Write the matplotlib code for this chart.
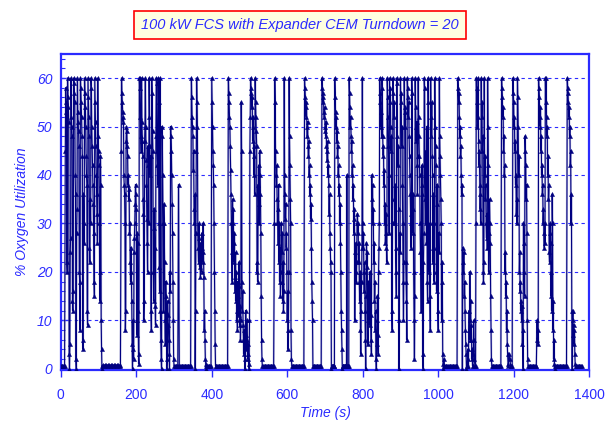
import numpy as np
import matplotlib
matplotlib.use("Agg")
import matplotlib.pyplot as plt
from matplotlib.ticker import MultipleLocator

# ---- data: % oxygen utilization; bursts sampled every 1 s, idle periods every 2 s ----
STEP_BURST = 1.0
STEP_FLAT = 2.0

flat_a = [0.5, 0.6, 0.5, 0.6, 0.5, 0.6]
burst_1 = [45, 58, 55, 53, 22, 20, 60, 56, 54, 51, 3, 0, 5, 24, 27, 60, 52, 50, 48, 14,
           12, 16, 60, 59, 57, 55, 40, 36, 2, 0, 28, 33, 60, 53, 51, 49, 46, 20, 18, 8,
           60, 58, 55, 52, 48, 44, 6, 4, 36, 30, 26, 60, 57, 54, 50, 44, 40, 38, 12, 9,
           60, 56, 52, 48, 25, 22, 35, 30, 60, 58, 50, 46, 42, 38, 34, 28, 18, 15, 60, 55,
           51, 46, 40, 36, 32, 26, 60, 48, 45, 42, 30, 20, 14, 44, 38, 10, 4, 0]
flat_b = [0.6, 0.7, 0.6, 0.7, 0.6, 0.7, 0.6, 0.7, 0.6, 0.7, 0.6, 0.7, 0.6, 0.7, 0.6, 0.7,
          0.6, 0.7, 0.6, 0.7, 0.6, 0.7, 0.6, 0.7, 0.6]
burst_2 = [45, 60, 57, 55, 53, 51, 52, 40, 38, 36, 30, 8, 12, 47, 50, 49, 46, 44, 38, 40,
           35, 37, 28, 30, 22, 18, 25, 20, 14, 5, 0, 10, 4, 2, 24, 27, 30, 34, 38, 36,
           33, 10, 7, 28, 26, 12, 3, 1,
           60, 58, 60, 52, 48, 45, 60, 51, 47, 44, 35, 32, 10, 14, 47, 50, 60, 50, 43, 38,
           31, 26, 20, 46, 42, 30, 60, 52, 46, 40, 44, 12, 8, 60, 57, 49, 45, 20, 14, 33,
           29, 25, 13, 9, 48, 60, 59, 45, 42, 38, 60, 55, 30, 21, 16, 60, 12, 6, 2, 0,
           50, 48, 40, 30, 12, 34, 30, 22, 10, 5, 18, 15, 12, 0, 2, 14, 11, 9, 6, 3,
           0, 20, 16, 50, 48, 45, 40, 34, 28, 18, 10, 2]
flat_c = [0.6, 0.5, 0.6, 0.5, 0.6, 0.5, 38, 0.6, 0.5, 0.6, 0.5, 0.6, 0.5, 0.6, 0.5, 0.6,
          0.5, 0.6, 0.5, 0.6, 0.5, 0.6, 0.5]
burst_3 = [60, 56, 52, 50, 48, 41, 45, 33, 30, 36, 0, 12, 28, 45, 60, 55, 50, 28, 25, 22,
           30, 27, 21, 24, 19, 26, 23, 20, 28, 25, 22, 30, 24, 19, 8, 12, 6, 2, 1, 0]
flat_d = [0.6, 0.5, 0.6, 0.5, 0.6, 0.5, 0.6]
burst_4 = [60, 55, 50, 45, 42, 38, 30, 20, 12, 5]
flat_e = [0.6, 0.5, 0.6, 0.5, 0.6, 0.5, 0.6, 0.5, 0.6, 0.5, 0.6, 0.5, 0.6, 0.5, 0.6, 0.5,
          0.6]
burst_5 = [60, 57, 55, 52, 50, 46, 41, 36, 30, 24, 18,
           35, 30, 33, 26, 22, 28, 19, 16, 24, 14, 20, 10, 12, 8, 18, 15, 11, 22, 17, 9,
           13, 6, 10, 55, 45, 18, 12, 16, 9, 6, 3, 8, 5, 0, 2, 12, 7, 4, 10, 6,
           2, 5, 3, 1, 0,
           10, 45, 52, 60, 58, 57, 54, 56, 50, 47, 52, 44, 40, 46, 36, 60, 55, 52, 49, 46,
           20, 22, 18, 38, 34, 42, 30, 45, 40, 36, 28, 15, 6, 2]
flat_f = [0.6, 0.5, 0.6, 0.5, 0.6, 0.5, 0.6, 0.5, 0.6, 0.5, 0.6, 0.5, 0.6, 0.5, 0.6, 0.5]
burst_6 = [30, 60, 55, 45, 40, 38, 42, 35, 30, 33, 26, 38, 22, 30, 18, 25, 15, 20, 30, 24,
           28, 18, 14, 22, 12, 16, 60, 40, 36, 31, 34, 25, 28, 20, 10, 16, 4, 8, 20, 60,
           48, 42, 35, 30, 8, 2]
flat_g = [0.6, 0.5, 0.6, 0.5, 0.6, 0.5, 0.6, 0.5, 0.6, 0.5, 0.6, 0.5, 0.6, 0.5, 0.6, 0.5,
          0.6]
burst_7 = [60, 58, 56, 54, 52, 55, 50, 48, 51, 46, 44, 47, 40, 42, 36, 38, 31, 34, 25, 18,
           14, 10]
flat_h = [0.6, 0.5, 0.6, 0.5, 0.6, 0.5, 0.6, 0.5, 0.6, 0.5, 0.6, 0.5]
burst_8 = [60, 58, 57, 55, 56, 53, 52, 54, 50, 49, 48, 51, 46, 45, 43, 47, 40, 42, 38, 32,
           36, 28, 25, 22, 20, 0,
           0.5, 0.6, 0.5, 0.6, 0.5, 0.6, 0.5, 0.6,
           60, 56, 53, 50, 52, 47, 49, 44, 46, 40, 42, 36, 38, 30, 34, 26, 20, 12, 8, 4,
           0, 0.5,
           0.5, 0.6, 0.5, 0.6, 0.5, 0.6, 0.5, 0.6, 0.5, 0.6, 40, 0.6, 0.5, 0.6, 0.5, 0.6]
burst_9 = [60, 57, 54, 50, 52, 48, 45, 47, 40, 42, 35, 38, 31, 28, 33, 10, 24, 20, 26, 18,
           22, 30,
           32, 28, 30, 22, 26, 18, 14, 20, 8, 3, 12, 18, 25, 60, 30, 25, 28, 20, 16, 22,
           12, 6, 0, 15, 26, 21, 24, 10, 5, 18, 12, 16, 9, 20, 14, 11, 6, 3, 40, 35,
           38, 30, 33, 22, 26, 14, 18, 8, 12, 2, 0, 5, 10, 15, 7, 3, 20, 25, 30,
           60, 57, 55, 50, 53, 48, 60, 58, 48, 44, 46, 38, 41, 30, 34, 26, 28, 32, 25, 22,
           60, 56, 52, 46, 40, 28,
           60, 55, 58, 50, 45, 48, 12, 8, 30, 60, 57, 52, 55, 35, 30, 38, 25, 20, 15, 60,
           59, 48, 42, 46, 33, 0, 10, 28, 24, 60, 55, 57, 46, 50, 38, 30, 18, 10, 22, 60,
           53, 50, 54, 22, 18, 14, 6, 60, 58, 56, 52, 55, 48, 44, 40, 36, 30, 25, 32, 60,
           57, 33, 28, 36, 20, 10, 2, 15, 60, 54, 50, 47, 51, 42, 36, 44, 60, 52, 48, 44,
           40, 30, 24, 20, 12, 38, 42, 36, 3, 0, 22, 28, 60, 58, 40, 35, 30, 45, 26, 50,
           18, 14, 60, 55, 25, 20, 30, 15, 8, 60, 52, 48, 55, 44, 40, 22, 36, 30, 18, 25,
           60, 50, 46, 42, 20, 16, 38, 34, 12, 8, 28, 24, 60, 48, 44, 40, 35, 30, 10, 22,
           18, 3, 1, 0, 2]
flat_i = [0.6, 0.5, 0.6, 0.5, 0.6, 0.5, 0.6, 0.5, 0.6, 0.5, 0.6, 0.5, 0.6, 0.5, 0.6, 0.5,
          0.6, 0.5]
burst_10 = [60, 58, 55, 57, 52, 48, 50, 44, 46, 40, 36, 38, 0, 25, 22, 20, 24, 15, 18, 12,
            8, 5, 3, 0,
            0.6, 0.6, 2, 4, 0.6, 8, 12, 6, 20, 10, 14, 6, 9, 2, 4, 0.6, 0.6, 3, 10, 6,
            2, 0.6, 0.6, 0.6,
            30, 60, 55, 58, 50, 52, 60, 47, 42, 45, 38, 33, 36, 30, 60, 52, 55, 45, 48, 20,
            18, 22, 60, 40, 44, 35, 38, 30, 27, 32, 25, 60, 50, 42, 20, 28, 35, 30, 26, 15,
            8, 2]
flat_j = [0.6, 0.5, 0.6, 0.5, 0.6, 0.5, 0.6, 0.5, 0.6, 0.5, 0.6, 0.5, 0.6]
burst_11 = [60, 58, 56, 52, 54, 45, 48, 40, 42, 20, 24, 15, 18, 8, 12, 5, 3, 1]
flat_k = [0.6, 3, 2, 0.6, 0.5, 0.6]
burst_12 = [60, 57, 55, 50, 52, 45, 47, 38, 40, 32, 35, 30, 60, 56, 50, 40, 44, 20, 24, 16,
            18, 12, 14, 10, 13, 5, 8, 0, 30, 26, 20, 15, 48, 45, 42, 35, 38, 28, 10, 2]
flat_l = [0.6, 0.5, 0.6, 0.5, 0.6, 0.5, 0.6, 0.5, 0.6, 0.5, 0.6, 0.5]
burst_13 = [10, 6, 8, 5, 60, 58, 56, 52, 50, 54, 45, 48, 40, 42, 36, 38, 30, 33, 28, 25,
            30, 26, 60, 55, 60, 52, 48, 50, 40, 44, 35, 38, 24, 22, 28, 30, 26, 15, 20, 12,
            36, 30, 8, 14, 2, 6, 1, 0]
flat_m = [0.6, 0.5, 0.6, 0.5, 0.6, 0.5, 0.6, 0.5, 0.6, 0.5, 0.6, 0.5, 0.6, 0.5, 0.6, 0.5]
burst_14 = [60, 58, 57, 55, 52, 54, 48, 50, 42, 45, 30, 36, 12, 0, 10, 12, 7, 9, 5, 8,
            3, 1]
flat_n = [0.6, 0.5, 0.6, 0.5, 0.6, 0.5, 0.6, 0.5, 0.6]

segments = [
    (flat_a, STEP_FLAT), (burst_1, STEP_BURST), (flat_b, STEP_FLAT), (burst_2, STEP_BURST),
    (flat_c, STEP_FLAT), (burst_3, STEP_BURST), (flat_d, STEP_FLAT), (burst_4, STEP_BURST),
    (flat_e, STEP_FLAT), (burst_5, STEP_BURST), (flat_f, STEP_FLAT), (burst_6, STEP_BURST),
    (flat_g, STEP_FLAT), (burst_7, STEP_BURST), (flat_h, STEP_FLAT), (burst_8, STEP_BURST),
    (burst_9, STEP_BURST), (flat_i, STEP_FLAT), (burst_10, STEP_BURST), (flat_j, STEP_FLAT),
    (burst_11, STEP_BURST), (flat_k, STEP_FLAT), (burst_12, STEP_BURST), (flat_l, STEP_FLAT),
    (burst_13, STEP_BURST), (flat_m, STEP_FLAT), (burst_14, STEP_BURST), (flat_n, STEP_FLAT),
]
t_parts, y_parts = [], []
t0 = 0.0
for vals, step in segments:
    n = len(vals)
    t_parts.append(t0 + step * np.arange(n))
    y_parts.append(np.asarray(vals, dtype=float))
    t0 += step * n
t = np.concatenate(t_parts)
y = np.concatenate(y_parts)

x_ticks = [0, 200, 400, 600, 800, 1000, 1200, 1400]
y_ticks = [0, 10, 20, 30, 40, 50, 60]
title_text = "100 kW FCS with Expander CEM Turndown = 20"
x_label = "Time (s)"
y_label = "% Oxygen Utilization"

# ---- styling ----
BLUE = "#2b2bff"
NAVY = "#000080"
plt.rcParams["font.family"] = ["Liberation Sans", "DejaVu Sans"]

fig = plt.figure(figsize=(6.08, 4.24), dpi=100)
ax = fig.add_axes([0.100, 0.127, 0.869, 0.746])

for yv in y_ticks[1:]:
    ax.axhline(yv, color=BLUE, lw=0.8, ls=(0, (3, 3)), zorder=1)

# soft halo behind the trace, then the trace itself
ax.plot(t, y, color="#9999cc", lw=1.6, alpha=0.5, zorder=2)
ax.plot(t, y, color=NAVY, lw=0.8, marker="^", ms=3.0, mec=NAVY, mfc=NAVY,
        mew=0.3, zorder=3)

ax.set_xlim(0, 1400)
ax.set_ylim(-0.3, 65)
ax.set_xticks(x_ticks)
ax.set_yticks(y_ticks)
ax.yaxis.set_minor_locator(MultipleLocator(2))

for sp in ax.spines.values():
    sp.set_color(BLUE)
    sp.set_linewidth(1.6)

ax.tick_params(axis="x", direction="out", length=5, width=1.0, color=BLUE,
               labelcolor=BLUE, labelsize=10, pad=8)
ax.tick_params(axis="y", which="major", direction="in", length=5, width=1.0,
               color=BLUE, labelcolor=BLUE, labelsize=10, pad=6)
ax.tick_params(axis="y", which="minor", direction="in", length=3, width=0.8,
               color=BLUE)
for lab in ax.get_yticklabels():
    lab.set_fontstyle("italic")

ax.set_xlabel(x_label, color=BLUE, fontsize=10, style="italic", labelpad=3)
ax.set_ylabel(y_label, color=BLUE, fontsize=10, style="italic", labelpad=6)

fig.text(0.493, 0.941, title_text, color=BLUE, fontsize=10.5, style="italic",
         ha="center", va="center",
         bbox=dict(boxstyle="square,pad=0.5", fc="#ffffe0", ec="#ff0000", lw=1.2))

fig.savefig("out.png", dpi=100)
